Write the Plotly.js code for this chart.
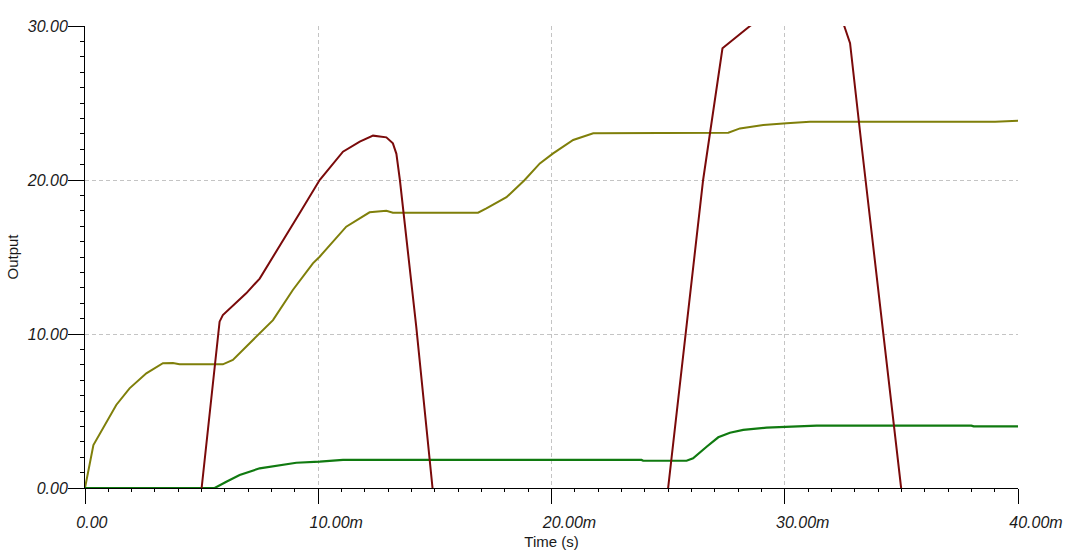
<!DOCTYPE html>
<html>
<head>
<meta charset="utf-8">
<script src="https://cdn.plot.ly/plotly-3.0.1.min.js"></script>
<style>html,body{margin:0;padding:0;background:#fff;}#chart{width:1065px;height:560px;}</style>
</head>
<body>
<div id="chart"></div>
<script>
// time in milliseconds
const redT = [0, 4.4, 5.0, 5.77, 5.91, 6.4, 6.91, 7.49, 8.34, 9.2, 10.06, 10.6, 11.06, 11.78, 12.35, 12.92, 13.2, 13.35, 13.5, 14.2, 14.9, 15.5, 24.4, 25.0, 26.5, 27.33, 28.51, 29.5, 30.5, 31.5, 32.2, 32.55, 32.8, 33.3, 35.0, 35.6, 40];
const redV = [-8, -8, 0, 10.8, 11.23, 11.9, 12.64, 13.6, 15.67, 17.84, 20.0, 21.0, 21.84, 22.49, 22.88, 22.77, 22.38, 21.7, 20.0, 10.5, 0, -8, -8, 0, 20.0, 28.55, 30.0, 31.1, 31.7, 31.8, 31.3, 30.0, 28.88, 22.16, 0, -8, -8];

const oliveT = [0, 0.36, 1.34, 1.91, 2.63, 3.34, 3.77, 4.05, 5.91, 6.34, 7.2, 8.06, 8.91, 9.77, 10.06, 11.2, 12.2, 12.92, 13.2, 16.85, 17.21, 18.07, 18.85, 19.5, 20.07, 20.93, 21.79, 27.5, 27.58, 28.08, 29.08, 30.08, 31.08, 39.02, 40];
const oliveV = [0, 2.79, 5.39, 6.47, 7.45, 8.1, 8.12, 8.03, 8.03, 8.31, 9.61, 10.9, 12.86, 14.59, 15.02, 16.97, 17.9, 18.0, 17.88, 17.88, 18.16, 18.88, 20.0, 21.08, 21.73, 22.6, 23.03, 23.03, 23.07, 23.35, 23.57, 23.68, 23.79, 23.79, 23.85];

const greenT = [0, 5.56, 6.06, 6.63, 7.49, 8.34, 9.06, 10.06, 11.06, 23.86, 23.93, 25.79, 26.07, 26.65, 27.15, 27.65, 28.22, 29.22, 30.01, 31.37, 38.0, 38.1, 40];
const greenV = [0, 0, 0.41, 0.84, 1.28, 1.49, 1.64, 1.71, 1.82, 1.82, 1.77, 1.77, 1.93, 2.68, 3.29, 3.59, 3.77, 3.92, 3.98, 4.05, 4.05, 4.0, 4.0];

const xTickVals = [0, 10, 20, 30, 40];
const xTickText = ['0.00\u00a0\u00a0\u00a0\u00a0\u00a0', '10.00m', '20.00m', '30.00m', '40.00m'];
const xTitle = '\u00a0'.repeat(11) + 'Time (s)';
const yTitle = 'Output';

const tickFont = {family: 'Liberation Sans, Arial, sans-serif', size: 16, style: 'italic', color: '#1a1a1a'};
const titleFont = {family: 'Liberation Sans, Arial, sans-serif', size: 15, color: '#1a1a1a'};

const traces = [
  {x: oliveT, y: oliveV, mode: 'lines', line: {color: '#7f7f0a', width: 2}, showlegend: false, hoverinfo: 'skip'},
  {x: greenT, y: greenV, mode: 'lines', line: {color: '#107a10', width: 2.2}, showlegend: false, hoverinfo: 'skip'},
  {x: redT, y: redV, mode: 'lines', line: {color: '#7a0a0a', width: 2}, showlegend: false, hoverinfo: 'skip'}
];

const layout = {
  width: 1065, height: 560,
  margin: {l: 85, r: 47, t: 26, b: 72},
  paper_bgcolor: '#ffffff', plot_bgcolor: '#ffffff',
  showlegend: false,
  xaxis: {
    range: [0, 40], tickmode: 'array', tickvals: xTickVals, ticktext: xTickText,
    ticks: 'outside', ticklen: 15, tickwidth: 1, tickcolor: '#000',
    tickfont: tickFont, ticklabelshift: 18, ticklabelstandoff: 5,
    showline: true, linecolor: '#000', linewidth: 1,
    showgrid: true, gridcolor: '#c4c4c4', griddash: '4px,3px', gridwidth: 1,
    zeroline: false,
    title: {text: xTitle, font: titleFont, standoff: 6},
    minor: {tickmode: 'linear', tick0: 0, dtick: 1, ticks: 'outside', ticklen: 3, tickcolor: '#000', tickwidth: 1, showgrid: false}
  },
  yaxis: {
    range: [0, 30], tickmode: 'linear', tick0: 0, dtick: 10,
    ticks: 'outside', ticklen: 16, tickwidth: 1, tickcolor: '#000',
    tickformat: '.2f', tickfont: tickFont, ticklabelstandoff: -3,
    showline: true, linecolor: '#000', linewidth: 1,
    showgrid: true, gridcolor: '#c4c4c4', griddash: '4px,3px', gridwidth: 1,
    zeroline: false,
    title: {text: yTitle, font: titleFont, standoff: 4},
    minor: {tickmode: 'linear', tick0: 0, dtick: 1, ticks: 'outside', ticklen: 4, tickcolor: '#000', tickwidth: 1, showgrid: false}
  }
};

Plotly.newPlot('chart', traces, layout, {staticPlot: true});
</script>
</body>
</html>
